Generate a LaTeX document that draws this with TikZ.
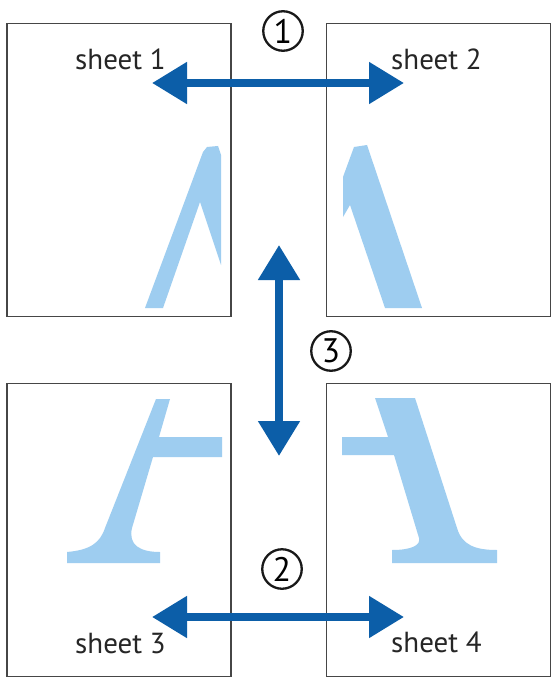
\documentclass[tikz,border=0pt]{standalone}
\usepackage{fontspec}
\setmainfont{PT Sans}
\usetikzlibrary{arrows.meta}
\definecolor{arrowblue}{RGB}{12,94,168}
\definecolor{glyphblue}{RGB}{158,205,240}
\definecolor{edgegray}{RGB}{70,70,70}
\begin{document}
\begin{tikzpicture}[x=1pt,y=-1pt,
  sheet/.style={draw=edgegray,line width=1.5pt,minimum width=224pt,minimum height=293pt,inner sep=0pt},
  sheetlabel/.style={inner sep=0pt,font=\fontsize{29}{29}\selectfont,text=black!85},
  glyph/.style={fill=glyphblue,draw=none},
  bigarrow/.style={draw=arrowblue,line width=8pt,{Triangle[length=35pt,width=40pt]}-{Triangle[length=35pt,width=40pt]}},
  numcirc/.style={circle,draw=black!90,line width=2.3pt,minimum size=39.5pt,inner sep=0pt,font=\fontsize{34}{34}\selectfont}
]
\useasboundingbox (0,0) rectangle (556,679);
\fill[white] (0,0) rectangle (556,679);

% glyph fragments of the big letter
\fill[glyph] (145,308) -- (203,152) -- (207,147) -- (218,146) -- (221,155) -- (221,265) -- (200,202) -- (163,308) -- cycle;
\fill[glyph] (343,177) -- (354,147) -- (367,145) -- (422,308) -- (385,308) -- (350,205) -- (343,217) -- cycle;
\fill[glyph] (156,399) -- (170,399) -- (159,437) -- (222,437) -- (222,457) -- (153,457) -- (132,528)
  .. controls (128,545) and (140,552) .. (160,552) -- (160,563) -- (67,563) -- (67,552)
  .. controls (90,550) and (100,543) .. (105,528) -- cycle;
\fill[glyph] (375,398) -- (415,398) -- (457,528) .. controls (462,545) and (475,550) .. (497,550)
  -- (497,563) -- (392,563) -- (392,550) .. controls (412,550) and (421,545) .. (419,538)
  -- (394,455) -- (342,455) -- (342,437) -- (388,437) -- cycle;

% sheets
\node[sheet] (s1) at (119,170) {};
\node[sheet] (s2) at (438.5,170) {};
\node[sheet] (s3) at (119,530) {};
\node[sheet] (s4) at (438.5,530) {};

% arrow end points
\coordinate (a1l) at (152,83);
\coordinate (a1r) at (404,83);
\coordinate (a2l) at (152,617);
\coordinate (a2r) at (404,617);
\coordinate (a3t) at (279,245);
\coordinate (a3b) at (279,456);

\draw[bigarrow] (a1l) -- (a1r);
\draw[bigarrow] (a2l) -- (a2r);
\draw[bigarrow] (a3t) -- (a3b);

% labels
\node[sheetlabel,anchor=base west] (t1) at (75,70) {sheet 1};
\node[sheetlabel,anchor=base west] (t2) at (391,70) {sheet 2};
\node[sheetlabel,anchor=base west] (t3) at (75,653) {sheet 3};
\node[sheetlabel,anchor=base west] (t4) at (391,652) {sheet 4};

\node[numcirc] (n1) at (283,31) {1};
\node[numcirc] (n3) at (331,351) {3};
\node[numcirc] (n2) at (282,569) {2};
\end{tikzpicture}
\end{document}
